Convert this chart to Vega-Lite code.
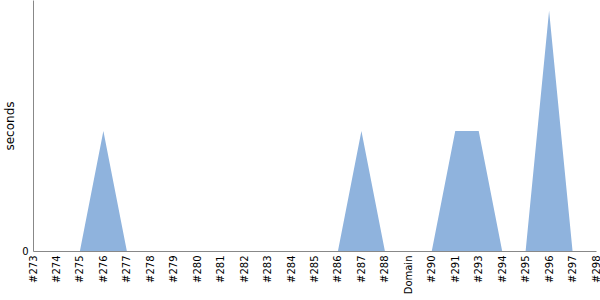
{
  "$schema": "https://vega.github.io/schema/vega-lite/v6.json",
  "autosize": {"type": "none"},
  "padding": {"left": 33, "top": 0, "right": 4, "bottom": 49},
  "width": 563,
  "height": 251,
  "config": {"view": {"stroke": null}, "font": "DejaVu Sans"},
  "data": {"values": [
    {"build": "#273", "seconds": 0},
    {"build": "#274", "seconds": 0},
    {"build": "#275", "seconds": 0},
    {"build": "#276", "seconds": 1},
    {"build": "#277", "seconds": 0},
    {"build": "#278", "seconds": 0},
    {"build": "#279", "seconds": 0},
    {"build": "#280", "seconds": 0},
    {"build": "#281", "seconds": 0},
    {"build": "#282", "seconds": 0},
    {"build": "#283", "seconds": 0},
    {"build": "#284", "seconds": 0},
    {"build": "#285", "seconds": 0},
    {"build": "#286", "seconds": 0},
    {"build": "#287", "seconds": 1},
    {"build": "#288", "seconds": 0},
    {"build": "Domain", "seconds": 0},
    {"build": "#290", "seconds": 0},
    {"build": "#291", "seconds": 1},
    {"build": "#293", "seconds": 1},
    {"build": "#294", "seconds": 0},
    {"build": "#295", "seconds": 0},
    {"build": "#296", "seconds": 2},
    {"build": "#297", "seconds": 0},
    {"build": "#298", "seconds": 0}
  ]},
  "mark": {"type": "area", "color": "#8fb3dd", "opacity": 1},
  "encoding": {
    "x": {
      "field": "build", "type": "ordinal", "sort": null,
      "scale": {"type": "point", "padding": 0},
      "axis": {"title": null, "labelAngle": -90, "labelFontSize": 10, "labelColor": "#000", "ticks": false, "grid": false, "domainColor": "#888", "labelPadding": 4}
    },
    "y": {
      "field": "seconds", "type": "quantitative",
      "scale": {"domain": [0, 2.09], "nice": false},
      "axis": {"title": "seconds", "titleFontWeight": "normal", "titleFontSize": 12, "titleColor": "#000", "values": [0], "labelFontSize": 10, "labelColor": "#000", "ticks": false, "grid": false, "domainColor": "#888", "labelPadding": 5, "titlePadding": 5}
    }
  }
}
